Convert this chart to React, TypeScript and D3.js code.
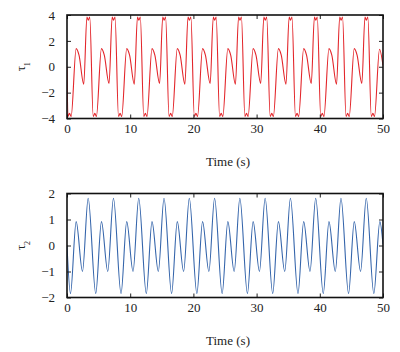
import React, { useEffect, useRef } from 'react';
import * as d3 from 'd3';

// tau1 key points (time in s)
const t1: number[] = [
  0,
  0.15, 0.4, 0.65, 1.45, 1.9, 2.65, 3.15, 3.37, 3.6,
  4.15, 4.4, 4.65, 5.45, 5.9, 6.65, 7.15, 7.37, 7.6,
  8.15, 8.4, 8.65, 9.45, 9.9, 10.65, 11.15, 11.37, 11.6,
  12.15, 12.4, 12.65, 13.45, 13.9, 14.65, 15.15, 15.37, 15.6,
  16.15, 16.4, 16.65, 17.45, 17.9, 18.65, 19.15, 19.37, 19.6,
  20.15, 20.4, 20.65, 21.45, 21.9, 22.65, 23.15, 23.37, 23.6,
  24.15, 24.4, 24.65, 25.45, 25.9, 26.65, 27.15, 27.37, 27.6,
  28.15, 28.4, 28.65, 29.45, 29.9, 30.65, 31.15, 31.37, 31.6,
  32.15, 32.4, 32.65, 33.45, 33.9, 34.65, 35.15, 35.37, 35.6,
  36.15, 36.4, 36.65, 37.45, 37.9, 38.65, 39.15, 39.37, 39.6,
  40.15, 40.4, 40.65, 41.45, 41.9, 42.65, 43.15, 43.37, 43.6,
  44.15, 44.4, 44.65, 45.45, 45.9, 46.65, 47.15, 47.37, 47.6,
  48.15, 48.4, 48.65, 49.45, 50,
];
const tau1: number[] = [
  0,
  -3.85, -3.6, -3.85, 1.4, 0.9, -1.35, 3.85, 3.6, 3.85,
  -3.85, -3.6, -3.85, 1.4, 0.9, -1.3, 3.85, 3.6, 3.85,
  -3.85, -3.6, -3.85, 1.4, 0.9, -1.35, 3.85, 3.6, 3.85,
  -3.85, -3.6, -3.85, 1.4, 0.9, -1.3, 3.85, 3.6, 3.85,
  -3.85, -3.6, -3.85, 1.4, 0.9, -1.35, 3.85, 3.6, 3.85,
  -3.85, -3.6, -3.85, 1.4, 0.9, -1.3, 3.85, 3.6, 3.85,
  -3.85, -3.6, -3.85, 1.4, 0.9, -1.35, 3.85, 3.6, 3.85,
  -3.85, -3.6, -3.85, 1.4, 0.9, -1.3, 3.85, 3.6, 3.85,
  -3.85, -3.6, -3.85, 1.4, 0.9, -1.35, 3.85, 3.6, 3.85,
  -3.85, -3.6, -3.85, 1.4, 0.9, -1.3, 3.85, 3.6, 3.85,
  -3.85, -3.6, -3.85, 1.4, 0.9, -1.35, 3.85, 3.6, 3.85,
  -3.85, -3.6, -3.85, 1.4, 0.9, -1.3, 3.85, 3.6, 3.85,
  -3.85, -3.6, -3.85, 1.35, 0.1,
];

// tau2 extrema
const t2: number[] = [
  0,
  0.55, 1.45, 2.45, 3.35,
  4.55, 5.45, 6.45, 7.35,
  8.55, 9.45, 10.45, 11.35,
  12.55, 13.45, 14.45, 15.35,
  16.55, 17.45, 18.45, 19.35,
  20.55, 21.45, 22.45, 23.35,
  24.55, 25.45, 26.45, 27.35,
  28.55, 29.45, 30.45, 31.35,
  32.55, 33.45, 34.45, 35.35,
  36.55, 37.45, 38.45, 39.35,
  40.55, 41.45, 42.45, 43.35,
  44.55, 45.45, 46.45, 47.35,
  48.55, 49.5, 50,
];
const tau2: number[] = [
  0,
  -1.85, 0.92, -1.0, 1.82,
  -1.85, 0.92, -1.0, 1.82,
  -1.85, 0.92, -1.0, 1.82,
  -1.85, 0.92, -1.0, 1.82,
  -1.85, 0.92, -1.0, 1.82,
  -1.85, 0.92, -1.0, 1.82,
  -1.85, 0.92, -1.0, 1.82,
  -1.85, 0.92, -1.0, 1.82,
  -1.85, 0.92, -1.0, 1.82,
  -1.85, 0.92, -1.0, 1.82,
  -1.85, 0.92, -1.0, 1.82,
  -1.85, 0.92, -1.0, 1.82,
  -1.85, 0.92, 0.05,
];

const xTicks = [0, 10, 20, 30, 40, 50];
const yTicks1 = [-4, -2, 0, 2, 4];
const yTicks2 = [-2, -1, 0, 1, 2];

const W = 400;
const H = 352;
const left = 67;
const right = 383;
const font = 'Liberation Serif';

type Panel = {
  id: string;
  t: number[];
  v: number[];
  yTicks: number[];
  top: number;
  bottom: number;
  color: string;
  sub: string;
};

const panels: Panel[] = [
  { id: 'p1', t: t1, v: tau1, yTicks: yTicks1, top: 15, bottom: 118.5, color: '#e3262b', sub: '1' },
  { id: 'p2', t: t2, v: tau2, yTicks: yTicks2, top: 193.5, bottom: 297.5, color: '#3565ab', sub: '2' },
];

export default function App() {
  const ref = useRef<SVGSVGElement>(null);

  useEffect(() => {
    const svg = d3.select(ref.current);
    svg.selectAll('*').remove();
    const x = d3.scaleLinear().domain([0, 50]).range([left, right]);

    panels.forEach((p) => {
      const y = d3.scaleLinear()
        .domain([p.yTicks[0], p.yTicks[p.yTicks.length - 1]])
        .range([p.bottom, p.top]);
      const g = svg.append('g');

      g.append('clipPath').attr('id', 'clip-' + p.id)
        .append('rect')
        .attr('x', left).attr('y', p.top)
        .attr('width', right - left).attr('height', p.bottom - p.top);

      const line = d3.line<number>()
        .x((d, i) => x(p.t[i]))
        .y((d) => y(d))
        .curve(d3.curveMonotoneX);

      g.append('path')
        .attr('d', line(p.v))
        .attr('fill', 'none')
        .attr('stroke', p.color)
        .attr('stroke-width', 1.1)
        .attr('clip-path', 'url(#clip-' + p.id + ')');

      const bottomAxis = g.append('g')
        .attr('transform', 'translate(0,' + p.bottom + ')')
        .call(d3.axisBottom(x).tickValues(xTicks).tickSizeInner(-4).tickSizeOuter(0).tickPadding(5).tickFormat(d3.format('d')));
      const leftAxis = g.append('g')
        .attr('transform', 'translate(' + left + ',0)')
        .call(d3.axisLeft(y).tickValues(p.yTicks).tickSizeInner(-4).tickSizeOuter(0).tickPadding(12).tickFormat((d) => d3.format('d')(d as number).replace('-', '\u2212')));
      g.append('g')
        .attr('transform', 'translate(0,' + p.top + ')')
        .call(d3.axisTop(x).tickValues(xTicks).tickSizeInner(-4).tickSizeOuter(0).tickFormat(() => ''));
      g.append('g')
        .attr('transform', 'translate(' + right + ',0)')
        .call(d3.axisRight(y).tickValues(p.yTicks).tickSizeInner(-4).tickSizeOuter(0).tickFormat(() => ''));

      g.selectAll('.domain').remove();
      g.selectAll('.tick line').attr('stroke', '#222').attr('stroke-width', 1);
      [bottomAxis, leftAxis].forEach((a) => {
        a.attr('font-family', font).attr('font-size', 13);
        a.selectAll('text').attr('fill', '#222');
      });

      g.append('rect')
        .attr('x', left).attr('y', p.top)
        .attr('width', right - left).attr('height', p.bottom - p.top)
        .attr('fill', 'none')
        .attr('stroke', '#111')
        .attr('stroke-width', 1.6);

      g.append('text')
        .attr('x', 228)
        .attr('y', p.bottom + 47)
        .attr('text-anchor', 'middle')
        .attr('fill', '#222')
        .attr('font-family', font)
        .attr('font-size', 13)
        .text('Time (s)');

      const yl = g.append('text')
        .attr('transform', 'translate(25,' + (p.top + p.bottom) / 2 + ') rotate(-90)')
        .attr('text-anchor', 'middle')
        .attr('fill', '#222')
        .attr('font-family', font)
        .attr('font-size', 13);
      yl.append('tspan').text('\u03c4');
      yl.append('tspan').attr('baseline-shift', 'sub').attr('font-size', 8).text(p.sub);
    });
  }, []);

  return <svg ref={ref} width={W} height={H} style={{ display: 'block', position: 'absolute', left: 0, top: 0 }} />;
}
